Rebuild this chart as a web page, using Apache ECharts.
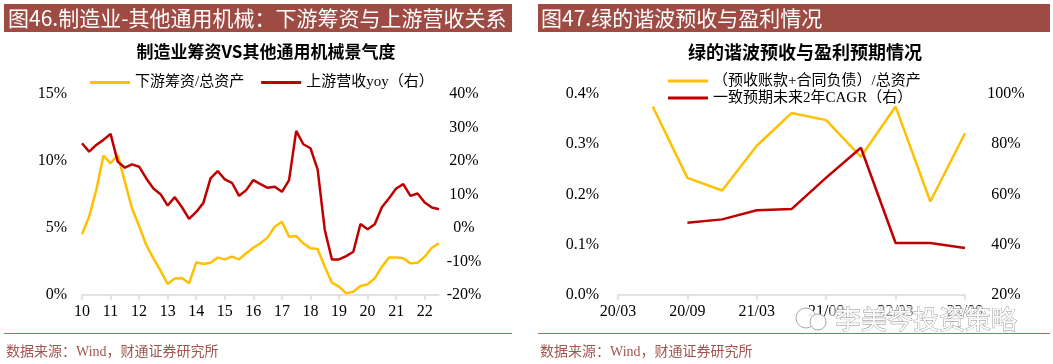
<!DOCTYPE html>
<html><head><meta charset="utf-8">
<script src="https://cdn.jsdelivr.net/npm/echarts@6/dist/echarts.min.js"></script>
<style>html,body{margin:0;padding:0;background:#fff}#c{width:1053px;height:364px}</style>
</head><body><div id="c"></div>
<script>
// ---------- Left chart data (quarterly 2010Q1 - 2022Q3) ----------
const leftCategories = [
 '10Q1','10Q2','10Q3','10Q4','11Q1','11Q2','11Q3','11Q4','12Q1','12Q2','12Q3','12Q4',
 '13Q1','13Q2','13Q3','13Q4','14Q1','14Q2','14Q3','14Q4','15Q1','15Q2','15Q3','15Q4',
 '16Q1','16Q2','16Q3','16Q4','17Q1','17Q2','17Q3','17Q4','18Q1','18Q2','18Q3','18Q4',
 '19Q1','19Q2','19Q3','19Q4','20Q1','20Q2','20Q3','20Q4','21Q1','21Q2','21Q3','21Q4',
 '22Q1','22Q2','22Q3'];
const leftTickLabels = ['10','11','12','13','14','15','16','17','18','19','20','21','22'];
const leftFinancing = [4.53,5.85,7.84,10.4,9.83,10.45,8.46,6.47,5.15,3.73,2.74,1.82,0.82,1.24,1.27,0.87,
 2.44,2.31,2.41,2.79,2.66,2.86,2.66,3.11,3.53,3.86,4.30,5.10,5.47,4.35,4.40,3.86,3.48,3.43,2.11,0.92,
 0.62,0.12,0.25,0.67,0.80,1.24,2.11,2.79,2.79,2.74,2.36,2.41,2.86,3.53,3.86];
const leftRevenueYoy = [25.3,22.8,24.8,26.3,28.1,19.8,18.0,19.0,18.3,14.8,11.8,10.1,6.7,9.2,6.2,2.7,
 4.8,7.5,14.8,17.0,14.5,13.5,9.6,11.3,14.3,13.1,12.0,12.3,10.8,14.3,29.0,25.0,23.8,17.5,-0.5,-9.4,
 -9.4,-8.4,-7.1,1.2,-0.4,1.1,6.2,8.9,11.8,13.1,9.6,10.3,7.6,6.1,5.6];
const leftNames = ['下游筹资/总资产','上游营收yoy（右）'];

// ---------- Right chart data ----------
const rightCategories = ['20/03','20/06','20/09','20/12','21/03','21/06','21/09','21/12','22/03','22/06','22/09'];
const rightAdvance = [null,0.375,0.233,0.208,0.297,0.362,0.348,0.275,0.375,0.186,0.322];
const rightCagr = [null,null,48.8,50.1,53.7,54.2,66.7,78.6,40.7,40.7,38.7];
const rightNames = ['（预收账款+合同负债）/总资产','一致预期未来2年CAGR（右）'];

// ---------- Texts ----------
const headerLeft = '图46.制造业-其他通用机械：下游筹资与上游营收关系';
const headerRight = '图47.绿的谐波预收与盈利情况';
const titleLeft = '制造业筹资VS其他通用机械景气度';
const titleRight = '绿的谐波预收与盈利预期情况';
const sourceText = '数据来源：Wind，财通证券研究所';
const watermarkText = '李美岑投资策略';

const SERIF = "'Liberation Serif','Noto Sans CJK SC',serif";
const CJK = "'Noto Sans CJK SC','Liberation Serif',sans-serif";
const YELLOW = '#FFC000', RED = '#C00000', BAR = '#9E4B44';

const chart = echarts.init(document.getElementById('c'));

const axisLineStyle = {show:true, lineStyle:{color:'#d9d9d9', width:1.5}};
const labelStyle = {color:'#000', fontFamily:SERIF, fontSize:16};

function txt(x, y, text, opts, z) {
  return {
    type:'text', x:x, y:y, z:(z || 10),
    style: Object.assign({text:text, fill:'#000', font:'16px ' + CJK,
      textAlign:'left', textVerticalAlign:'middle', align:'left', verticalAlign:'middle'}, opts || {})
  };
}

const option = {
  animation:false,
  backgroundColor:'#fff',
  grid:[
    {left:82, top:94, width:357, height:201, containLabel:false},
    {left:618, top:94, width:347, height:201, containLabel:false}
  ],
  legend:[
    {data:leftNames, left:85, top:70, itemWidth:40, itemHeight:3, itemGap:17, icon:'rect',
     textStyle:{fontFamily:SERIF, fontSize:15, color:'#000'}},
    {data:rightNames, orient:'vertical', left:663, top:68, itemWidth:40, itemHeight:3, itemGap:1, icon:'rect',
     textStyle:{fontFamily:SERIF, fontSize:15, color:'#000', lineHeight:16}}
  ],
  xAxis:[
    {type:'category', gridIndex:0, data:leftCategories, boundaryGap:false,
     axisLine:axisLineStyle,
     axisTick:{show:true, interval:3, length:5, lineStyle:{color:'#d9d9d9', width:1.5}},
     axisLabel:Object.assign({interval:3, margin:9,
       formatter:function(v, i){ return leftTickLabels[Math.round(i/4)]; }}, labelStyle),
     splitLine:{show:false}},
    {type:'category', gridIndex:1, data:rightCategories, boundaryGap:false,
     axisLine:axisLineStyle,
     axisTick:{show:true, interval:1, length:5, lineStyle:{color:'#d9d9d9', width:1.5}},
     axisLabel:Object.assign({interval:1, margin:9}, labelStyle),
     splitLine:{show:false}}
  ],
  yAxis:[
    {type:'value', gridIndex:0, min:0, max:15, interval:5, position:'left',
     axisLine:{show:false}, axisTick:{show:false}, splitLine:{show:false},
     axisLabel:Object.assign({margin:15, formatter:'{value}%'}, labelStyle)},
    {type:'value', gridIndex:0, min:-20, max:40, interval:10, position:'right',
     axisLine:{show:false}, axisTick:{show:false}, splitLine:{show:false},
     axisLabel:Object.assign({margin:25, align:'center', formatter:'{value}%'}, labelStyle)},
    {type:'value', gridIndex:1, min:0, max:0.4, interval:0.1, position:'left',
     axisLine:{show:false}, axisTick:{show:false}, splitLine:{show:false},
     axisLabel:Object.assign({margin:19, formatter:function(v){return v.toFixed(1)+'%';}}, labelStyle)},
    {type:'value', gridIndex:1, min:20, max:100, interval:20, position:'right',
     axisLine:{show:false}, axisTick:{show:false}, splitLine:{show:false},
     axisLabel:Object.assign({margin:41, align:'center', formatter:'{value}%'}, labelStyle)}
  ],
  series:[
    {name:leftNames[0], type:'line', xAxisIndex:0, yAxisIndex:0, data:leftFinancing,
     showSymbol:false, symbol:'none', lineStyle:{color:YELLOW, width:2.5}, itemStyle:{color:YELLOW}, z:2},
    {name:leftNames[1], type:'line', xAxisIndex:0, yAxisIndex:1, data:leftRevenueYoy,
     showSymbol:false, symbol:'none', lineStyle:{color:RED, width:2.5}, itemStyle:{color:RED}, z:3},
    {name:rightNames[0], type:'line', xAxisIndex:1, yAxisIndex:2, data:rightAdvance,
     showSymbol:false, symbol:'none', lineStyle:{color:YELLOW, width:2.5}, itemStyle:{color:YELLOW}, z:2},
    {name:rightNames[1], type:'line', xAxisIndex:1, yAxisIndex:3, data:rightCagr,
     showSymbol:false, symbol:'none', lineStyle:{color:RED, width:2.5}, itemStyle:{color:RED}, z:3}
  ],
  graphic:[
    {type:'rect', shape:{x:4, y:4, width:508, height:28}, style:{fill:BAR}, z:5},
    {type:'rect', shape:{x:538, y:4, width:512, height:28}, style:{fill:BAR}, z:5},
    txt(8, 18, headerLeft, {fill:'#fff', font:'21px ' + CJK}),
    txt(541, 18, headerRight, {fill:'#fff', font:'21px ' + CJK}),
    txt(266, 52, titleLeft, {font:'bold 17px ' + CJK, textAlign:'center', align:'center'}),
    txt(805, 52, titleRight, {font:'bold 18px ' + CJK, textAlign:'center', align:'center'}),
    {type:'line', shape:{x1:4, y1:333.5, x2:512, y2:333.5}, style:{stroke:'#B8685F', lineWidth:1}, z:5},
    {type:'line', shape:{x1:538, y1:333.5, x2:1050, y2:333.5}, style:{stroke:'#B8685F', lineWidth:1}, z:5},
    txt(6, 352, sourceText, {fill:'#A0564E', font:'14px ' + SERIF}),
    txt(540, 352, sourceText, {fill:'#A0564E', font:'14px ' + SERIF}),
    {type:'rect', shape:{x:830, y:306, width:186, height:26}, style:{fill:'rgba(255,255,255,0.55)'}, z:19},
    {type:'circle', shape:{cx:806, cy:318, r:10}, style:{fill:'rgba(255,255,255,0.9)', stroke:'#a8a8a8', lineWidth:1}, z:20},
    {type:'circle', shape:{cx:818, cy:322, r:8}, style:{fill:'rgba(255,255,255,0.9)', stroke:'#a8a8a8', lineWidth:1}, z:20},
    txt(835, 319, watermarkText, {fill:'rgba(255,255,255,0.95)', stroke:'#8c8c8c', lineWidth:0.8, font:'26px ' + CJK}, 22)
  ]
};
chart.setOption(option);
</script>
</body></html>
